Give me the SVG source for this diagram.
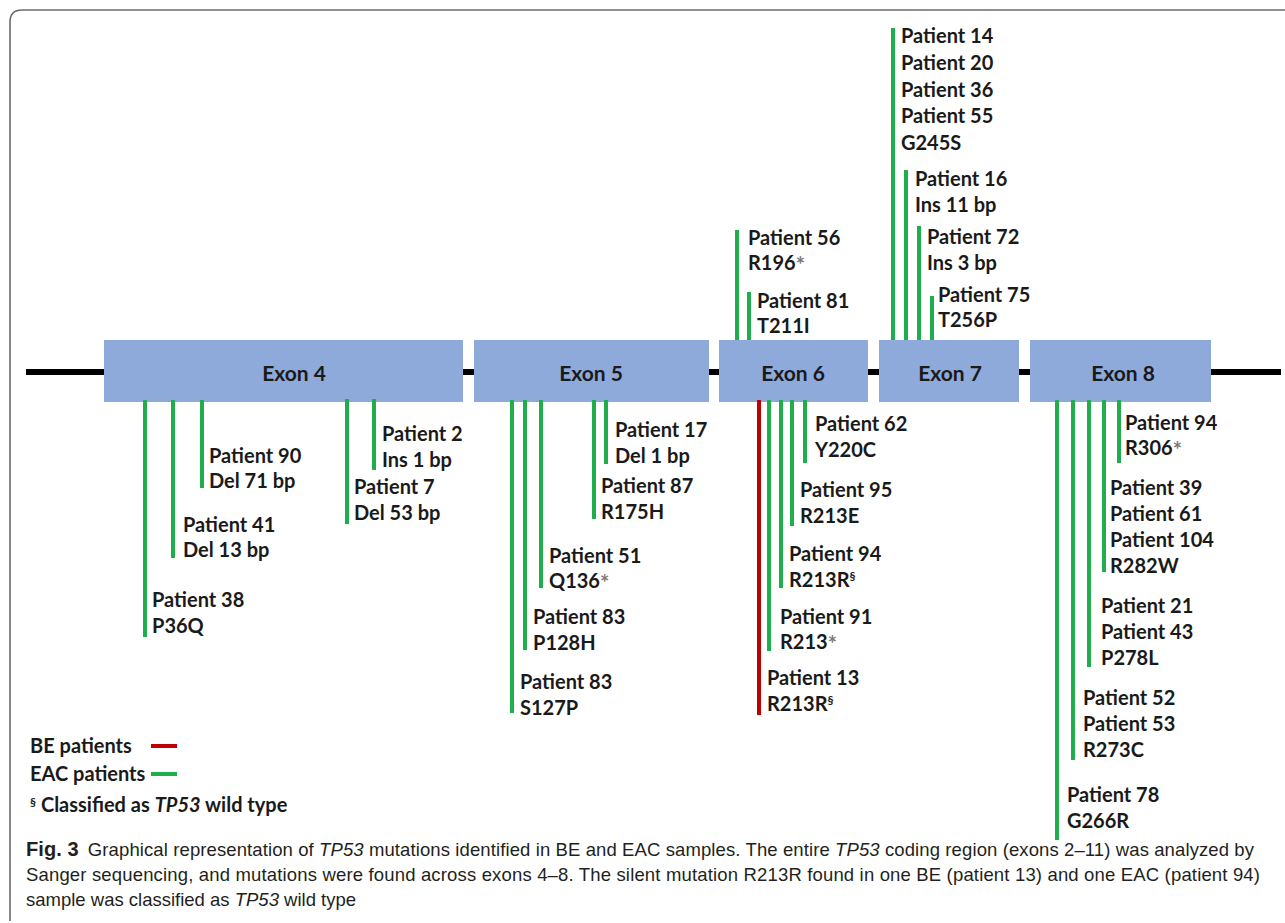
<svg xmlns="http://www.w3.org/2000/svg" width="1285" height="923" viewBox="0 0 1285 923">
<style>
.frame{fill:none;stroke:#6b6b6b;stroke-width:1.6}
.bb{stroke:#000;stroke-width:6}
.exon{fill:#8eaadb}
.ex{font-family:Lato,"Liberation Sans",sans-serif;font-weight:bold;font-size:21px;fill:#1a1a1a;text-anchor:middle}
.lb{font-family:Lato,"Liberation Sans",sans-serif;font-weight:bold;font-size:20px;fill:#1a1a1a}
.g{stroke:#1fae4b;stroke-width:4}
.r{stroke:#c00000;stroke-width:4}
.ast{fill:#7a7a7a;font-size:22px}
.sec{font-size:12px}
.cap{font-family:"Liberation Sans",Arial,sans-serif;font-size:18.5px;fill:#231f20}
</style>
<rect width="1285" height="923" fill="#fff"/>
<path class="frame" d="M10,921 V22 Q10,10 22,10 H1285"/>
<line class="bb" x1="26" y1="372" x2="1281" y2="372"/>
<g id="exon4"><rect class="exon" x="104" y="340" width="359" height="62"/><text class="ex" x="294" y="381">Exon 4</text></g>
<g id="exon5"><rect class="exon" x="474" y="340" width="235" height="62"/><text class="ex" x="591" y="381">Exon 5</text></g>
<g id="exon6"><rect class="exon" x="719" y="340" width="149" height="62"/><text class="ex" x="793" y="381">Exon 6</text></g>
<g id="exon7"><rect class="exon" x="879" y="340" width="140" height="62"/><text class="ex" x="950" y="381">Exon 7</text></g>
<g id="exon8"><rect class="exon" x="1030" y="340" width="181" height="62"/><text class="ex" x="1123" y="381">Exon 8</text></g>
<g id="connectors">
<line class="g" x1="145" y1="400" x2="145" y2="637"/>
<line class="g" x1="173" y1="400" x2="173" y2="558"/>
<line class="g" x1="202" y1="400" x2="202" y2="488"/>
<line class="g" x1="347" y1="399" x2="347" y2="524"/>
<line class="g" x1="374" y1="399" x2="374" y2="470"/>
<line class="g" x1="512" y1="400" x2="512" y2="713"/>
<line class="g" x1="525" y1="400" x2="525" y2="650"/>
<line class="g" x1="541" y1="400" x2="541" y2="588"/>
<line class="g" x1="594" y1="400" x2="594" y2="519"/>
<line class="g" x1="606" y1="400" x2="606" y2="464"/>
<line class="r" x1="759" y1="400" x2="759" y2="715"/>
<line class="g" x1="769" y1="400" x2="769" y2="651"/>
<line class="g" x1="781" y1="400" x2="781" y2="588"/>
<line class="g" x1="792" y1="400" x2="792" y2="526"/>
<line class="g" x1="805" y1="400" x2="805" y2="463"/>
<line class="g" x1="737" y1="230" x2="737" y2="340"/>
<line class="g" x1="749" y1="292" x2="749" y2="340"/>
<line class="g" x1="893" y1="28" x2="893" y2="340"/>
<line class="g" x1="906" y1="170" x2="906" y2="340"/>
<line class="g" x1="919" y1="226" x2="919" y2="340"/>
<line class="g" x1="932" y1="296" x2="932" y2="340"/>
<line class="g" x1="1057" y1="400" x2="1057" y2="840"/>
<line class="g" x1="1073" y1="400" x2="1073" y2="760"/>
<line class="g" x1="1089" y1="400" x2="1089" y2="667"/>
<line class="g" x1="1104" y1="400" x2="1104" y2="572"/>
<line class="g" x1="1119" y1="400" x2="1119" y2="463"/>
</g>
<g id="m-p38"><text class="lb" x="152" y="607">Patient 38<tspan x="152" dy="26">P36Q</tspan></text></g>
<g id="m-p41"><text class="lb" x="183" y="532">Patient 41<tspan x="183" dy="25">Del 13 bp</tspan></text></g>
<g id="m-p90"><text class="lb" x="209" y="463">Patient 90<tspan x="209" dy="25">Del 71 bp</tspan></text></g>
<g id="m-p7"><text class="lb" x="354" y="494">Patient 7<tspan x="354" dy="26">Del 53 bp</tspan></text></g>
<g id="m-p2"><text class="lb" x="382" y="441">Patient 2<tspan x="382" dy="26">Ins 1 bp</tspan></text></g>
<g id="m-p83b"><text class="lb" x="520" y="689">Patient 83<tspan x="520" dy="26">S127P</tspan></text></g>
<g id="m-p83a"><text class="lb" x="533" y="624">Patient 83<tspan x="533" dy="26">P128H</tspan></text></g>
<g id="m-p51"><text class="lb" x="549" y="563">Patient 51<tspan x="549" dy="25">Q136</tspan><tspan class="ast" dy="3">*</tspan></text></g>
<g id="m-p87"><text class="lb" x="601" y="493">Patient 87<tspan x="601" dy="26">R175H</tspan></text></g>
<g id="m-p17"><text class="lb" x="615" y="437">Patient 17<tspan x="615" dy="26">Del 1 bp</tspan></text></g>
<g id="m-p13"><text class="lb" x="767" y="685">Patient 13<tspan x="767" dy="26">R213R</tspan><tspan class="sec" dy="-7">§</tspan></text></g>
<g id="m-p91"><text class="lb" x="780" y="624">Patient 91<tspan x="780" dy="25">R213</tspan><tspan class="ast" dy="3">*</tspan></text></g>
<g id="m-p94a"><text class="lb" x="789" y="561">Patient 94<tspan x="789" dy="26">R213R</tspan><tspan class="sec" dy="-7">§</tspan></text></g>
<g id="m-p95"><text class="lb" x="800" y="497">Patient 95<tspan x="800" dy="26">R213E</tspan></text></g>
<g id="m-p62"><text class="lb" x="815" y="431">Patient 62<tspan x="815" dy="26">Y220C</tspan></text></g>
<g id="m-p56"><text class="lb" x="748" y="245">Patient 56<tspan x="748" dy="25">R196</tspan><tspan class="ast" dy="3">*</tspan></text></g>
<g id="m-p81"><text class="lb" x="757" y="308">Patient 81<tspan x="757" dy="25">T211I</tspan></text></g>
<g id="m-g245s"><text class="lb" x="901" y="43">Patient 14<tspan x="901" dy="26.75">Patient 20</tspan><tspan x="901" dy="26.75">Patient 36</tspan><tspan x="901" dy="26.75">Patient 55</tspan><tspan x="901" dy="26.75">G245S</tspan></text></g>
<g id="m-p16"><text class="lb" x="915" y="186">Patient 16<tspan x="915" dy="26">Ins 11 bp</tspan></text></g>
<g id="m-p72"><text class="lb" x="927" y="244">Patient 72<tspan x="927" dy="26">Ins 3 bp</tspan></text></g>
<g id="m-p75"><text class="lb" x="938" y="302">Patient 75<tspan x="938" dy="25">T256P</tspan></text></g>
<g id="m-p78"><text class="lb" x="1067" y="802">Patient 78<tspan x="1067" dy="26">G266R</tspan></text></g>
<g id="m-r273c"><text class="lb" x="1083" y="705">Patient 52<tspan x="1083" dy="26">Patient 53</tspan><tspan x="1083" dy="26">R273C</tspan></text></g>
<g id="m-p278l"><text class="lb" x="1101" y="613">Patient 21<tspan x="1101" dy="26">Patient 43</tspan><tspan x="1101" dy="26">P278L</tspan></text></g>
<g id="m-r282w"><text class="lb" x="1110" y="495">Patient 39<tspan x="1110" dy="26">Patient 61</tspan><tspan x="1110" dy="26">Patient 104</tspan><tspan x="1110" dy="25.5">R282W</tspan></text></g>
<g id="m-p94b"><text class="lb" x="1125" y="430">Patient 94<tspan x="1125" dy="25">R306</tspan><tspan class="ast" dy="3">*</tspan></text></g>
<g id="legend">
<text class="lb" x="30" y="753">BE patients</text>
<line class="r" x1="151" y1="746" x2="177" y2="746"/>
<text class="lb" x="30" y="781">EAC patients</text>
<line class="g" x1="151" y1="774" x2="177" y2="774"/>
<text class="lb" x="30" y="812"><tspan class="sec" dy="-6">§</tspan><tspan dy="6"> Classified as </tspan><tspan font-style="italic">TP53</tspan> wild type</text>
</g>
<g id="caption">
<text class="cap" x="26" y="856" textLength="1228" lengthAdjust="spacing"><tspan font-weight="bold" font-size="20">Fig. 3</tspan><tspan dx="9">Graphical representation of </tspan><tspan font-style="italic">TP53</tspan> mutations identified in BE and EAC samples. The entire <tspan font-style="italic">TP53</tspan> coding region (exons 2–11) was analyzed by</text>
<text class="cap" x="26" y="881" textLength="1234" lengthAdjust="spacing">Sanger sequencing, and mutations were found across exons 4–8. The silent mutation R213R found in one BE (patient 13) and one EAC (patient 94)</text>
<text class="cap" x="26" y="906">sample was classified as <tspan font-style="italic">TP53</tspan> wild type</text>
</g>
</svg>
